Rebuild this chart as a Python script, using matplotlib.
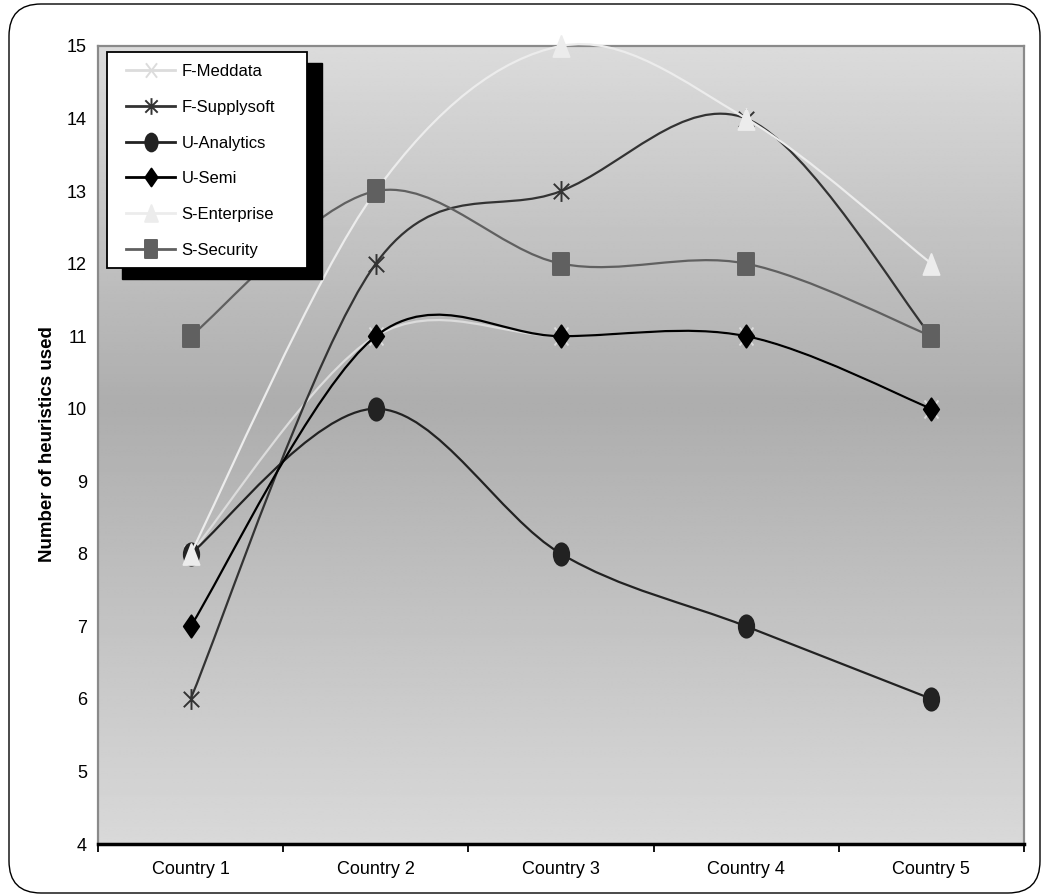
import numpy as np
import matplotlib
matplotlib.use("Agg")
import matplotlib.pyplot as plt
from matplotlib.path import Path
from matplotlib.patches import PathPatch, Rectangle, FancyBboxPatch
from matplotlib.lines import Line2D

plt.rcParams['font.family'] = ['Liberation Sans', 'DejaVu Sans']

# data
countries = ["Country 1", "Country 2", "Country 3", "Country 4", "Country 5"]
series_names = ["F-Meddata", "F-Supplysoft", "U-Analytics", "U-Semi", "S-Enterprise", "S-Security"]
f_meddata = [8, 11, 11, 11, 10]
f_supplysoft = [6, 12, 13, 14, 11]
u_analytics = [8, 10, 8, 7, 6]
u_semi = [7, 11, 11, 11, 10]
s_enterprise = [8, 13, 15, 14, 12]
s_security = [11, 13, 12, 12, 11]
all_values = [f_meddata, f_supplysoft, u_analytics, u_semi, s_enterprise, s_security]

# tall (stretched) marker shapes
asp = 1.45
circ = Path.unit_circle()
m_circle = Path(circ.vertices * [1, asp], circ.codes)
m_square = Path([(-1, -asp), (1, -asp), (1, asp), (-1, asp), (-1, -asp)], closed=True)
m_diamond = Path([(0, asp), (1, 0), (0, -asp), (-1, 0), (0, asp)], closed=True)
m_tri = Path([(-1, -1.3), (1, -1.3), (0, 1.3), (-1, -1.3)], closed=True)
m_x = Path([(-1, -1.3), (1, 1.3), (-1, 1.3), (1, -1.3)],
           [Path.MOVETO, Path.LINETO, Path.MOVETO, Path.LINETO])
m_star = Path([(-1, -1), (1, 1), (-1, 1), (1, -1), (0, -1.35), (0, 1.35)],
              [Path.MOVETO, Path.LINETO, Path.MOVETO, Path.LINETO, Path.MOVETO, Path.LINETO])

styles = [
    dict(color="#dcdcdc", marker=m_x, ms=13, filled=False),
    dict(color="#333333", marker=m_star, ms=15, filled=False),
    dict(color="#222222", marker=m_circle, ms=16, filled=True),
    dict(color="#000000", marker=m_diamond, ms=16, filled=True),
    dict(color="#ececec", marker=m_tri, ms=15, filled=True),
    dict(color="#606060", marker=m_square, ms=16, filled=True),
]


def smooth_path(xs, ys):
    # excel style smoothed line: bezier through points
    p = np.column_stack([xs, ys]).astype(float)
    n = len(p)
    verts = [p[0]]
    codes = [Path.MOVETO]
    for i in range(n - 1):
        pm = p[max(i - 1, 0)]
        pp = p[min(i + 2, n - 1)]
        c1 = p[i] + (p[i + 1] - pm) / 6.0
        c2 = p[i + 1] - (pp - p[i]) / 6.0
        verts += [c1, c2, p[i + 1]]
        codes += [Path.CURVE4] * 3
    return Path(verts, codes)


W, H = 1051, 896
fig = plt.figure(figsize=(W / 100, H / 100), dpi=100)
ax = fig.add_axes([98 / W, 1 - 844 / H, 926 / W, 798 / H])

# gradient background of the plot area
gy = np.linspace(0, 1, 300)
shade = np.interp(gy, [0, 0.45, 1.0], [0.86, 0.68, 0.85])
ax.imshow(np.repeat(shade[:, None], 2, axis=1), cmap="gray", vmin=0, vmax=1,
          extent=[0, 1, 0, 1], transform=ax.transAxes, aspect="auto", zorder=0,
          interpolation="bilinear")

xs = np.arange(1, len(countries) + 1)
for k, (vals, st) in enumerate(zip(all_values, styles)):
    z = 3 + k
    patch = PathPatch(smooth_path(xs, vals), fill=False, edgecolor=st["color"],
                      lw=1.6, zorder=z, clip_on=False)
    ax.add_patch(patch)
    ax.plot(xs, vals, linestyle="none", marker=st["marker"], ms=st["ms"],
            mfc=st["color"] if st["filled"] else "none", mec=st["color"],
            mew=1.4, zorder=z + 0.5, clip_on=False)

ax.set_xlim(0.5, 5.5)
ax.set_ylim(4, 15)
ax.set_yticks(range(4, 16))
ax.tick_params(axis="y", length=0, pad=8, labelsize=13)
ax.set_xticks(np.arange(0.5, 6, 1))
ax.set_xticklabels([])
ax.set_xticks(xs, minor=True)
ax.set_xticklabels(countries, minor=True)
ax.tick_params(axis="x", which="major", length=6, width=1.3, direction="out")
ax.tick_params(axis="x", which="minor", length=0, pad=12, labelsize=13)
for s in ["top", "left", "right"]:
    ax.spines[s].set_color("#8a8a8a")
    ax.spines[s].set_linewidth(1.6)
ax.spines["bottom"].set_linewidth(2.5)
ax.spines["bottom"].set_zorder(20)

fig.text(48 / W, 1 - 444 / H, "Number of heuristics used", rotation=90,
         ha="center", va="center", fontsize=13.5, fontweight="bold")

# legend box with shadow
fig.add_artist(Rectangle((122 / W, 1 - 279 / H), 200 / W, 216 / H,
                         facecolor="black", edgecolor="black", zorder=30))
fig.add_artist(Rectangle((107 / W, 1 - 268 / H), 200 / W, 216 / H,
                         facecolor="white", edgecolor="black", lw=1.3, zorder=31))
handles = []
for st in styles:
    handles.append(Line2D([0], [0], color=st["color"], lw=2, marker=st["marker"],
                          ms=st["ms"] * 0.8, mfc=st["color"] if st["filled"] else "none",
                          mec=st["color"], mew=1.4))
leg = fig.legend(handles, series_names, loc="upper left",
                 bbox_to_anchor=(118 / W, 1 - 56 / H), frameon=False, borderpad=0,
                 fontsize=12, handlelength=2.9, handletextpad=0.4, labelspacing=1.24)
leg.set_zorder(32)

# rounded outer frame
fig.add_artist(FancyBboxPatch((9, 3), 1031, 889, boxstyle="round,pad=0,rounding_size=32",
                              transform=None, facecolor="none", edgecolor="black", lw=1.0))

fig.savefig("out.png", dpi=100)
